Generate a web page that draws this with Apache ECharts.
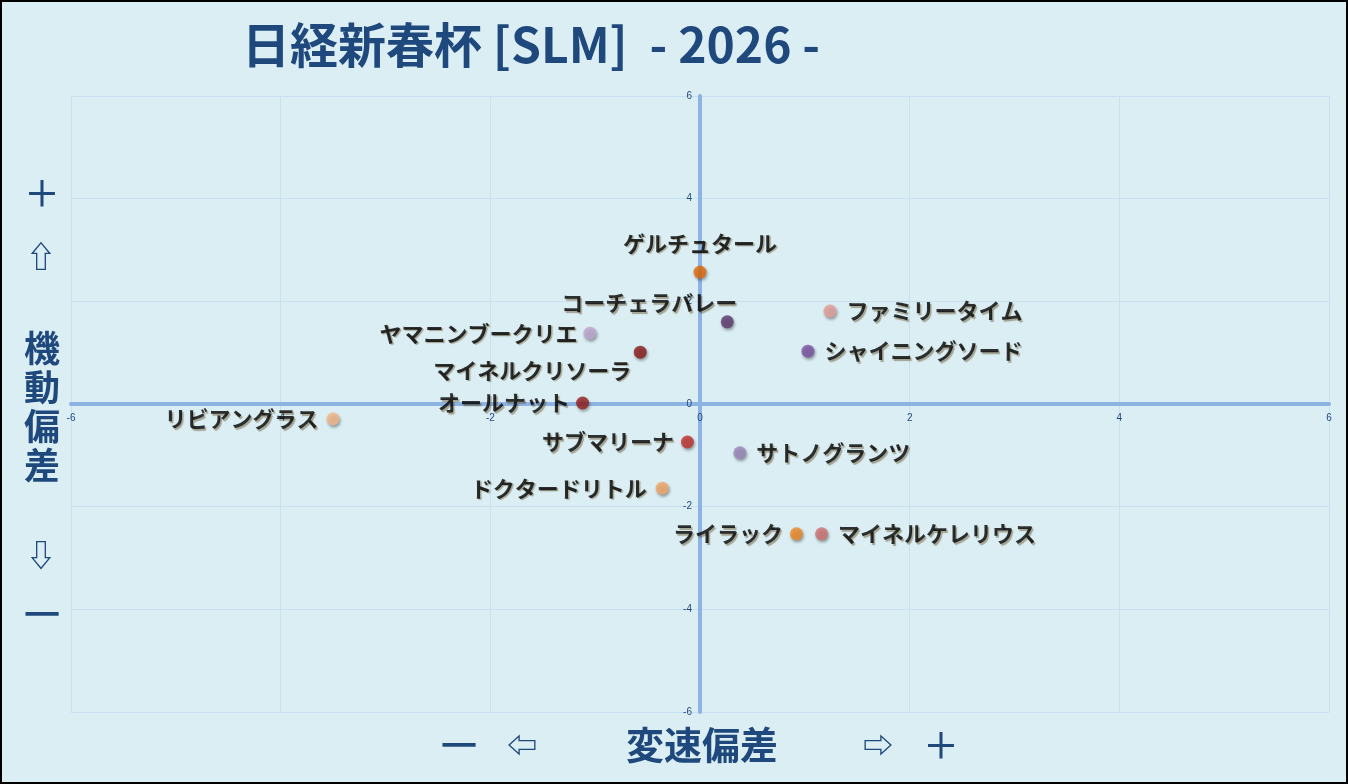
<!DOCTYPE html>
<html>
<head>
<meta charset="utf-8">
<script src="https://cdn.jsdelivr.net/npm/echarts@6/dist/echarts.min.js"></script>
<style>
  html, body { margin: 0; padding: 0; background: #daeef3; }
  #chart { width: 1348px; height: 784px; }
</style>
</head>
<body>
<div id="chart"></div>
<script>
// 馬名 / 変速偏差(x) / 機動偏差(y)
const horses = ['ゲルチュタール', 'コーチェラバレー', 'ファミリータイム', 'シャイニングソード',
  'ヤマニンブークリエ', 'マイネルクリソーラ', 'オールナット', 'リビアングラス', 'サブマリーナ',
  'サトノグランツ', 'ドクタードリトル', 'ライラック', 'マイネルケレリウス'];
const speedDev = [0.00, 0.26, 1.24, 1.03, -1.05, -0.57, -1.12, -3.50, -0.12, 0.38, -0.36, 0.92, 1.16];
const mobilityDev = [2.57, 1.60, 1.81, 1.03, 1.38, 1.01, 0.02, -0.29, -0.74, -0.95, -1.64, -2.53, -2.53];

const dotColors = ['#e46c0a', '#5e3a6e', '#e6a09c', '#7c52a2', '#bfa7cf', '#8b1c1c', '#962222',
  '#f5b889', '#c0312e', '#9b86bb', '#f4a868', '#f08a24', '#d07272'];

// ラベル配置
const labelPlace = [
  { position: 'top', distance: 11 },
  { position: 'inside', offset: [-78, -19] },
  { position: 'right', distance: 10 },
  { position: 'right', distance: 10 },
  { position: 'left', distance: 6 },
  { position: 'inside', offset: [-108, 18] },
  { position: 'left', distance: 6 },
  { position: 'left', distance: 8 },
  { position: 'left', distance: 7 },
  { position: 'right', distance: 10 },
  { position: 'left', distance: 9 },
  { position: 'left', distance: 7 },
  { position: 'right', distance: 10 }
];

const navy = '#1f497d';
const cjk = '"Noto Sans CJK JP", "DejaVu Sans", sans-serif';
const W = 1348, H = 784;
const gridBox = { left: 71, right: 19, top: 96, bottom: 72 };

const points = horses.map(function (name, i) {
  return {
    name: name,
    value: [speedDev[i], mobilityDev[i]],
    itemStyle: { color: dotColors[i] },
    label: labelPlace[i]
  };
});

function sideText(text, x, y, size, weight) {
  return {
    type: 'text',
    style: {
      text: text, x: x, y: y, fill: navy,
      fontSize: size, fontWeight: weight || 'bold', fontFamily: cjk,
      align: 'center', verticalAlign: 'middle'
    }
  };
}

// 軸ラベルを原点の線に寄せる
const xShift = -(H - gridBox.top - gridBox.bottom) / 2;
const yShift = -(W - gridBox.left - gridBox.right) / 2;

const chart = echarts.init(document.getElementById('chart'));
chart.setOption({
  backgroundColor: '#daeef3',
  animation: false,
  grid: gridBox,
  xAxis: {
    type: 'value', min: -6, max: 6, interval: 2,
    position: 'bottom', offset: xShift,
    axisLine: { onZero: false, lineStyle: { color: '#8db3e2', width: 4 } },
    axisTick: { show: false },
    axisLabel: { fontSize: 10, color: navy, margin: 9, showMinLabel: true, showMaxLabel: true },
    splitLine: { lineStyle: { color: '#c9e0f1', width: 1 } }
  },
  yAxis: {
    type: 'value', min: -6, max: 6, interval: 2,
    position: 'left', offset: yShift,
    axisLine: { onZero: false, lineStyle: { color: '#8db3e2', width: 4 } },
    axisTick: { show: false },
    axisLabel: { fontSize: 10, color: navy, margin: 8, showMinLabel: true, showMaxLabel: true },
    splitLine: { lineStyle: { color: '#c9e0f1', width: 1 } }
  },
  series: [{
    type: 'scatter',
    symbolSize: 13,
    data: points,
    itemStyle: {
      shadowBlur: 3, shadowColor: 'rgba(0,0,0,0.45)', shadowOffsetX: 1, shadowOffsetY: 2
    },
    label: {
      show: true,
      formatter: '{b}',
      color: '#000',
      fontSize: 22,
      fontWeight: 'bold',
      fontFamily: cjk,
      textShadowColor: 'rgba(80,50,0,0.5)',
      textShadowOffsetX: 1.5,
      textShadowOffsetY: 1.5,
      textShadowBlur: 1
    }
  }],
  graphic: [
    {
      type: 'rect',
      shape: { x: 1, y: 1, width: 1346, height: 782 },
      style: { fill: 'none', stroke: '#000', lineWidth: 2 },
      silent: true
    },
    sideText('日経新春杯 [SLM]  - 2026 -', 531, 45, 48),
    sideText('＋', 42, 193, 36, 500),
    sideText('⇧', 41, 256, 30),
    {
      type: 'text',
      style: {
        text: '機\n動\n偏\n差', x: 42, y: 407, fill: navy,
        fontSize: 36, fontWeight: 'bold', fontFamily: cjk, lineHeight: 39,
        align: 'center', verticalAlign: 'middle'
      }
    },
    sideText('⇩', 41, 555, 30),
    sideText('一', 42, 614, 36, 500),
    sideText('一', 459, 745, 36, 500),
    sideText('⇦', 522, 745, 30),
    sideText('変速偏差', 702, 745, 38),
    sideText('⇨', 878, 745, 30),
    sideText('＋', 941, 745, 36, 500)
  ]
});
</script>
</body>
</html>
